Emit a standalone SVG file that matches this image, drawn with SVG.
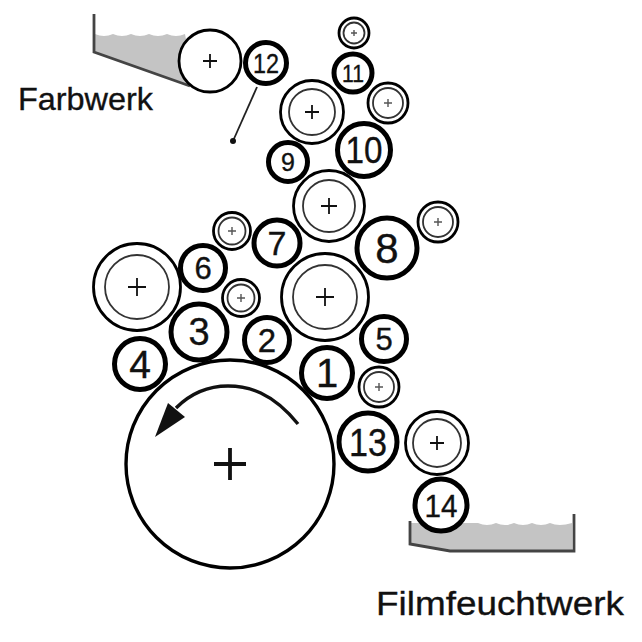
<svg xmlns="http://www.w3.org/2000/svg" width="642" height="642" viewBox="0 0 642 642">
<style>
text{font-family:"Liberation Sans",Arial,sans-serif;fill:#111;stroke:#111;stroke-width:.35}
.n{text-anchor:middle}
.c{fill:#fff;stroke:#000;stroke-width:5}
.o{fill:#fff;stroke:#000;stroke-width:2.8}
.i{fill:none;stroke:#333;stroke-width:1.8}
.p{fill:none;stroke:#111;stroke-width:1.8}
.ps{fill:none;stroke:#555;stroke-width:1.4}
.tray{fill:#c4c4c4;stroke:none}
.wall{fill:none;stroke:#444;stroke-width:2.8}
</style>
<g id="farbwerk-tray">
<path class="tray" d="M95 34q9 4 18 0q9 4 18 0q9 4 18 0q9 4 18 0q9 4 18 0L195 88L95 52Z"/>
<path class="wall" d="M94 14V52L190 86"/>
</g>
<g id="film-tray">
<path class="tray" d="M410 523H478q9 4 18 0q9 4 18 0q9 4 18 0q9 4 18 0q9 4 22 0V550H450L410 544Z"/>
<path class="wall" d="M410 521V544L450 551H574V514"/>
</g>
<g id="connectors">
<path d="M257 87L233 141" fill="none" stroke="#222" stroke-width="1.8"/>
<circle cx="233" cy="141" r="3" fill="#111"/>
</g>
<g id="main"><circle cx="230" cy="464" r="104" fill="#fff" stroke="#000" stroke-width="3.4"/>
<path d="M214 464H246M230 448V480" fill="none" stroke="#111" stroke-width="3.8"/>
<path d="M298 424C272 392 248 386 228 386C208 386 190 394 176 408" fill="none" stroke="#111" stroke-width="3.4"/>
<path d="M155 437L168 403L185 417Z" fill="#111"/></g>
<g id="r-ink"><circle class="o" cx="210" cy="61" r="31"/><path class="p" d="M203 61H217M210 54V68"/></g>
<g id="n12"><circle class="c" cx="266" cy="63" r="20.5"/><text class="n" x="266" y="73" font-size="28" textLength="26" lengthAdjust="spacingAndGlyphs">12</text></g>
<g id="s-a"><circle class="o" cx="354" cy="33" r="15"/><circle class="i" cx="354" cy="33" r="10.5"/><path class="ps" d="M351 33H357M354 30V36"/></g>
<g id="n11"><circle class="c" cx="353" cy="73" r="19"/><text class="n" x="353" y="82" font-size="24" textLength="22" lengthAdjust="spacingAndGlyphs">11</text></g>
<g id="r-a"><circle class="o" cx="312" cy="112" r="31.5"/><circle class="i" cx="312" cy="112" r="23"/><path class="p" d="M305 112H319M312 105V119"/></g>
<g id="s-b"><circle class="o" cx="388" cy="103" r="20"/><circle class="i" cx="388" cy="103" r="15"/><path class="ps" d="M384 103H392M388 99V107"/></g>
<g id="n9"><circle class="c" cx="288" cy="162" r="19.5"/><text class="n" x="288" y="171" font-size="25">9</text></g>
<g id="n10"><circle class="c" cx="364" cy="150" r="26.5"/><text class="n" x="364" y="163" font-size="37" textLength="37" lengthAdjust="spacingAndGlyphs">10</text></g>
<g id="r-b"><circle class="o" cx="329" cy="206" r="35.5"/><circle class="i" cx="329" cy="206" r="26"/><path class="p" d="M321 206H337M329 198V214"/></g>
<g id="s-c"><circle class="o" cx="438" cy="222" r="20"/><circle class="i" cx="438" cy="222" r="15"/><path class="ps" d="M434 222H442M438 218V226"/></g>
<g id="n7"><circle class="c" cx="277" cy="243" r="23"/><text class="n" x="277" y="255" font-size="34">7</text></g>
<g id="n8"><circle class="c" cx="387" cy="248" r="30"/><text class="n" x="387" y="263" font-size="42">8</text></g>
<g id="s-d"><circle class="o" cx="232" cy="231" r="18.5"/><circle class="i" cx="232" cy="231" r="13.5"/><path class="ps" d="M228 231H236M232 227V235"/></g>
<g id="n6"><circle class="c" cx="203" cy="268" r="22.5"/><text class="n" x="203" y="279" font-size="31">6</text></g>
<g id="r-c"><circle class="o" cx="137" cy="287" r="43.5"/><circle class="i" cx="137" cy="287" r="32"/><path class="p" d="M128 287H146M137 278V296"/></g>
<g id="s-e"><circle class="o" cx="241" cy="298" r="18.5"/><circle class="i" cx="241" cy="298" r="13.5"/><path class="ps" d="M237 298H245M241 294V302"/></g>
<g id="r-d"><circle class="o" cx="325" cy="297" r="43.5"/><circle class="i" cx="325" cy="297" r="32"/><path class="p" d="M316 297H334M325 288V306"/></g>
<g id="n3"><circle class="c" cx="199" cy="332" r="28"/><text class="n" x="199" y="345" font-size="38">3</text></g>
<g id="n2"><circle class="c" cx="267" cy="340" r="22.5"/><text class="n" x="267" y="352" font-size="33">2</text></g>
<g id="n4"><circle class="c" cx="140" cy="364" r="25.5"/><text class="n" x="140" y="378" font-size="39">4</text></g>
<g id="n5"><circle class="c" cx="384" cy="339" r="22.5"/><text class="n" x="384" y="350" font-size="31">5</text></g>
<g id="n1"><circle class="c" cx="327" cy="373" r="25.5"/><text class="n" x="327" y="387" font-size="40">1</text></g>
<g id="s-f"><circle class="o" cx="379" cy="387" r="20"/><circle class="i" cx="379" cy="387" r="15"/><path class="ps" d="M375 387H383M379 383V391"/></g>
<g id="n13"><circle class="c" cx="368" cy="442" r="29"/><text class="n" x="368" y="456" font-size="38" textLength="38" lengthAdjust="spacingAndGlyphs">13</text></g>
<g id="r-e"><circle class="o" cx="437" cy="443" r="31.5"/><circle class="i" cx="437" cy="443" r="24"/><path class="p" d="M430 443H444M437 436V450"/></g>
<g id="n14"><circle class="c" cx="441" cy="505" r="26"/><text class="n" x="441" y="517" font-size="32" textLength="33" lengthAdjust="spacingAndGlyphs">14</text></g>
<text x="18" y="110" font-size="32" textLength="135" lengthAdjust="spacingAndGlyphs">Farbwerk</text>
<text x="376" y="615" font-size="34" textLength="248" lengthAdjust="spacingAndGlyphs">Filmfeuchtwerk</text>
</svg>
